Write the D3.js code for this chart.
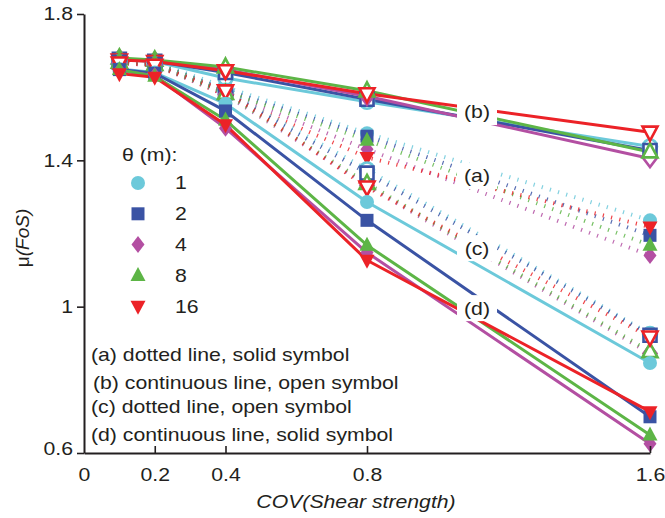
<!DOCTYPE html>
<html>
<head>
<meta charset="utf-8">
<script src="https://cdn.jsdelivr.net/npm/d3@7/dist/d3.min.js"></script>
<style>
  html, body { margin: 0; padding: 0; background: #fff; }
  svg { display: block; font-family: "Liberation Sans", Arial, Helvetica, sans-serif; }
</style>
</head>
<body>
<svg id="chart" width="665" height="518"></svg>
<script>
// Coefficient of variation of shear strength (x) and correlation lengths θ (m)
const covValues = [0.1, 0.2, 0.4, 0.8, 1.6];
const thetas = [1, 2, 4, 8, 16];

// Mean factor of safety, one row per θ, one column per COV value
// (a) dotted line, solid symbol
const muA = [
  [1.672, 1.668, 1.600, 1.474, 1.236],
  [1.672, 1.667, 1.592, 1.466, 1.195],
  [1.670, 1.665, 1.585, 1.430, 1.140],
  [1.672, 1.667, 1.588, 1.455, 1.168],
  [1.668, 1.663, 1.578, 1.408, 1.218]
];
// (b) continuous line, open symbol
const muB = [
  [1.675, 1.670, 1.625, 1.560, 1.438],
  [1.676, 1.671, 1.640, 1.567, 1.427],
  [1.678, 1.672, 1.648, 1.575, 1.405],
  [1.680, 1.674, 1.655, 1.590, 1.423],
  [1.674, 1.670, 1.645, 1.582, 1.477]
];
// (c) dotted line, open symbol
const muC = [
  [1.668, 1.662, 1.590, 1.375, 0.925],
  [1.668, 1.662, 1.585, 1.365, 0.922],
  [1.666, 1.660, 1.580, 1.332, 0.872],
  [1.668, 1.662, 1.583, 1.337, 0.877],
  [1.666, 1.660, 1.590, 1.327, 0.917]
];
// (d) continuous line, solid symbol
const muD = [
  [1.650, 1.640, 1.555, 1.286, 0.846],
  [1.648, 1.638, 1.535, 1.236, 0.699],
  [1.645, 1.632, 1.488, 1.148, 0.625],
  [1.648, 1.630, 1.510, 1.168, 0.649],
  [1.637, 1.627, 1.497, 1.127, 0.713]
];

const xTicks = [0, 0.2, 0.4, 0.8, 1.6];
const yTicks = [0.6, 1, 1.4, 1.8];
const groupLabels = ["(a)", "(b)", "(c)", "(d)"];
const noteLines = [
  "(a) dotted line, solid symbol",
  "(b) continuous line, open symbol",
  "(c) dotted line, open symbol",
  "(d) continuous line, solid symbol"
];

const colors = ["#6cc9da", "#3a53a4", "#b34fa2", "#5db546", "#ec2227"];
const shapes = ["circle", "square", "diamond", "triangleUp", "triangleDown"];

const groups = [
  { data: muA, dotted: true,  open: false, labelAt: [1.111, 1.357] },
  { data: muB, dotted: false, open: true,  labelAt: [1.111, 1.532] },
  { data: muC, dotted: true,  open: true,  labelAt: [1.111, 1.160] },
  { data: muD, dotted: false, open: false, labelAt: [1.111, 0.996] }
];

const svg = d3.select("#chart");
const x = d3.scaleLinear().domain([0, 1.6]).range([84, 650]);
const y = d3.scaleLinear().domain([0.6, 1.8]).range([453, 14]);

const ink = "#231f20";
const FONT = 18;
const WIDEN = 1.18;   // the typeface is set slightly wide

// Text helper: placed at (tx, ty), widened horizontally
function addText(parent, tx, ty, str, opts = {}) {
  const t = parent.append("text")
    .attr("transform", `translate(${tx},${ty}) scale(${WIDEN},1)`)
    .attr("font-size", opts.size || FONT)
    .attr("fill", ink)
    .attr("text-anchor", opts.anchor || "start")
    .attr("dominant-baseline", opts.baseline || "auto");
  if (opts.italic) t.attr("font-style", "italic");
  t.text(str);
  return t;
}

function shapePath(kind) {
  switch (kind) {
    case "circle":
      return "M7,0A7,7 0 1,1 -7,0A7,7 0 1,1 7,0Z";
    case "square":
      return "M-6.5,-6.5H6.5V6.5H-6.5Z";
    case "diamond":
      return "M0,-8.5L6.5,0L0,8.5L-6.5,0Z";
    case "triangleUp":
      return "M0,-8.5L7.5,5.5L-7.5,5.5Z";
    case "triangleDown":
      return "M0,8.5L7.5,-5.5L-7.5,-5.5Z";
  }
}

const line = d3.line().x((d, i) => x(covValues[i])).y(d => y(d));

// Dotted series first, then continuous ones
const plot = svg.append("g");
[0, 2, 1, 3].forEach(gi => {
  const g = groups[gi];
  g.data.forEach((row, ti) => {
    const p = plot.append("path")
      .attr("d", line(row))
      .attr("fill", "none")
      .attr("stroke", colors[ti]);
    if (g.dotted) {
      p.attr("stroke-width", 4).attr("stroke-dasharray", "1.2 7.3").attr("stroke-opacity", 0.85);
    } else {
      p.attr("stroke-width", 3).attr("stroke-linejoin", "round");
    }
  });
});

// Symbols
groups.forEach(g => {
  g.data.forEach((row, ti) => {
    plot.selectAll(null)
      .data(row)
      .enter()
      .append("path")
      .attr("d", shapePath(shapes[ti]))
      .attr("transform", (d, i) => `translate(${x(covValues[i])},${y(d)})`)
      .attr("fill", g.open ? "#fff" : colors[ti])
      .attr("stroke", g.open ? colors[ti] : "none")
      .attr("stroke-width", g.open ? 2.6 : 0);
  });
});

// Group labels on white patches over the lines
groups.forEach((g, gi) => {
  const cx = x(g.labelAt[0]), cy = y(g.labelAt[1]);
  svg.append("rect")
    .attr("x", cx - 20).attr("y", cy - 13)
    .attr("width", 40).attr("height", 26)
    .attr("fill", "#fff");
  addText(svg, cx, cy, groupLabels[gi], { anchor: "middle", baseline: "central" });
});

// Axes
const yAxis = svg.append("g")
  .attr("transform", `translate(${x(0)},0)`)
  .call(d3.axisLeft(y).tickValues(yTicks).tickFormat(d3.format("~g")).tickSize(7).tickSizeOuter(0));
const xAxis = svg.append("g")
  .attr("transform", `translate(0,${y(0.6)})`)
  .call(d3.axisBottom(x).tickValues(xTicks).tickFormat(d3.format("~g")).tickSize(-7).tickSizeOuter(0));

[xAxis, yAxis].forEach(a => {
  a.select(".domain").attr("stroke", ink).attr("stroke-width", 2);
  a.selectAll(".tick line").attr("stroke", ink).attr("stroke-width", 1.6);
  a.selectAll(".tick text")
    .attr("font-size", FONT)
    .attr("font-family", '"Liberation Sans", Arial, sans-serif')
    .attr("fill", ink);
});
xAxis.selectAll(".tick text")
  .attr("dy", null)
  .attr("y", null)
  .attr("transform", `translate(0,28) scale(${WIDEN},1)`);
xAxis.selectAll(".tick").filter(d => d === 0).select("line").remove();
yAxis.selectAll(".tick text")
  .attr("x", null)
  .attr("transform", `translate(-11,0) scale(${WIDEN},1)`);
yAxis.selectAll(".tick").filter(d => d === 0.6).select("text").attr("dy", "0.1em");

// Axis titles
addText(svg, 356, 508, "COV(Shear strength)", { anchor: "middle", italic: true });

const yTitle = svg.append("text")
  .attr("transform", "translate(29,238) rotate(-90)")
  .attr("text-anchor", "middle")
  .attr("font-size", 19)
  .attr("fill", ink);
yTitle.append("tspan").text("μ");
yTitle.append("tspan").attr("font-style", "italic").text("(FoS)");

// θ legend
const legend = svg.append("g");
addText(legend, 122, 161, "θ (m):");
thetas.forEach((t, i) => {
  const ly = 183 + i * 30.8;
  legend.append("path")
    .attr("d", shapePath(shapes[i]))
    .attr("transform", `translate(138,${ly})`)
    .attr("fill", colors[i]);
  addText(legend, 175, ly, String(t), { baseline: "central" });
});

// Notes explaining line and symbol styles
const noteY = [355, 383, 407, 435];
noteLines.forEach((s, i) => {
  addText(svg, i === 1 ? 93 : 91, noteY[i], s, { baseline: "central" });
});
</script>
</body>
</html>
